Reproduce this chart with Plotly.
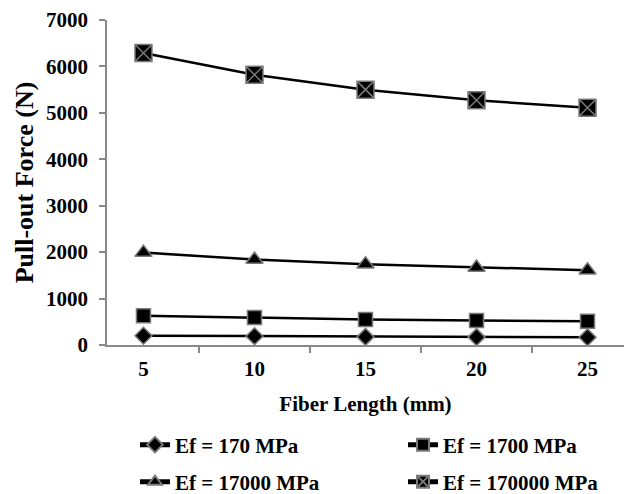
import plotly.graph_objects as go

fiber_length = ["5", "10", "15", "20", "25"]
ef_170 = [200, 190, 175, 170, 165]
ef_1700 = [630, 590, 550, 530, 510]
ef_17000 = [1990, 1840, 1740, 1670, 1610]
ef_170000 = [6290, 5820, 5500, 5270, 5110]

series = [
    ("Ef = 170 MPa", ef_170, "diamond", 13, "legend"),
    ("Ef = 1700 MPa", ef_1700, "square", 14, "legend2"),
    ("Ef = 17000 MPa", ef_17000, "triangle-up", 15, "legend3"),
    ("Ef = 170000 MPa", ef_170000, "square-x", 17, "legend4"),
]
# legend entry anchor positions (container pixels)
leg_pos = {"legend": (135, 445), "legend2": (403, 445),
           "legend3": (135, 482), "legend4": (403, 482)}

FONT = "Liberation Serif"
fig = go.Figure()
for name, vals, sym, sz, leg in series:
    fig.add_trace(go.Scatter(
        x=fiber_length, y=vals, name="<b>" + name + "</b>", mode="lines+markers",
        line=dict(color="black", width=2.5),
        marker=dict(symbol=sym, size=sz, color="black",
                    line=dict(color="#7a7a7a", width=1.5)),
        legend=leg, showlegend=True,
    ))

axis_common = dict(showgrid=False, zeroline=False, showline=True, automargin=False,
                   linecolor="#898989", linewidth=1.5, ticks="outside",
                   tickcolor="#898989", ticklen=6, tickwidth=1.5,
                   tickfont=dict(family=FONT, size=21, color="black"))

leg_common = dict(orientation="h", xref="container", yref="container",
                  xanchor="left", yanchor="middle",
                  font=dict(family=FONT, size=21, color="black"),
                  bgcolor="rgba(0,0,0,0)", itemsizing="constant", visible=True)

legends = {k: dict(x=px / 632, y=1 - py / 494, **leg_common) for k, (px, py) in leg_pos.items()}

fig.update_layout(
    width=632, height=494, showlegend=True,
    margin=dict(l=107, r=8, t=20, b=149, autoexpand=False),
    plot_bgcolor="white", paper_bgcolor="white",
    font=dict(family=FONT, size=21, color="black"),
    xaxis=dict(type="category", tickson="boundaries", ticklabelstandoff=4,
               title=dict(text="<b>Fiber Length (mm)</b>", font=dict(family=FONT, size=21), standoff=16),
               **axis_common),
    yaxis=dict(range=[0, 7000], dtick=1000, ticklabelstandoff=7,
               title=dict(text="<b>Pull-out Force (N)</b>", font=dict(family=FONT, size=26), standoff=5),
               **axis_common),
    **legends,
)
fig.update_xaxes(tickprefix="<b>", ticksuffix="</b>")
fig.update_yaxes(tickprefix="<b>", ticksuffix="</b>")
fig.write_html("out.html")
